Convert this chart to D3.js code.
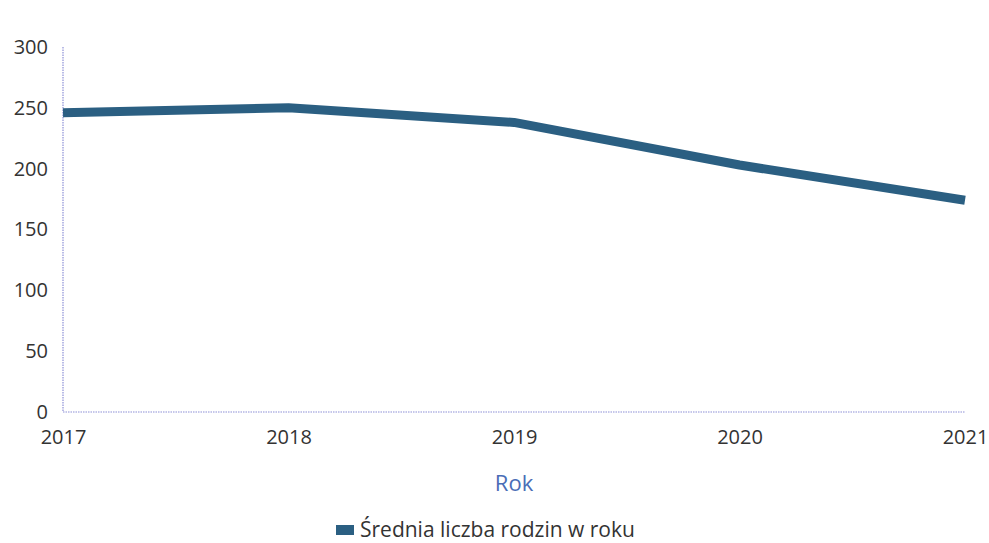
<!DOCTYPE html>
<html>
<head>
<meta charset="utf-8">
<script src="https://cdn.jsdelivr.net/npm/d3@7"></script>
<style>
  body { margin: 0; background: #fff; }
  text { font-family: "Open Sans", sans-serif; }
</style>
</head>
<body>
<div id="chart"></div>
<script>
// data
const years = ["2017", "2018", "2019", "2020", "2021"];
const values = [246, 250, 238, 203, 174];
const yTicks = [0, 50, 100, 150, 200, 250, 300];
const seriesName = "Średnia liczba rodzin w roku";
const xTitle = "Rok";

const w = 989, h = 543;
const margin = {left: 63, right: 24, top: 47, bottom: 131};

const svg = d3.select("#chart").append("svg")
    .attr("width", w)
    .attr("height", h);

const x = d3.scalePoint()
    .domain(years)
    .range([margin.left, w - margin.right]);

const y = d3.scaleLinear()
    .domain([0, 300])
    .range([h - margin.bottom, margin.top]);

// axes lines (dotted lavender)
svg.append("line")
    .attr("x1", margin.left).attr("x2", margin.left)
    .attr("y1", y(300)).attr("y2", y(0))
    .attr("stroke", "#8d8fd6")
    .attr("stroke-width", 1.2)
    .attr("stroke-dasharray", "1.5,1");

svg.append("line")
    .attr("x1", margin.left).attr("x2", w - margin.right)
    .attr("y1", y(0)).attr("y2", y(0))
    .attr("stroke", "#8d8fd6")
    .attr("stroke-width", 1.2)
    .attr("stroke-dasharray", "1.5,1");

// y tick labels
const yAxis = svg.append("g")
    .attr("transform", "translate(" + (margin.left - 15) + ",0)")
    .call(d3.axisLeft(y).tickValues(yTicks).tickSize(0).tickPadding(0));
yAxis.select(".domain").remove();
yAxis.selectAll("text")
    .attr("font-size", "20px")
    .attr("fill", "#333")
    .style("font-family", "'Open Sans', sans-serif");

// x tick labels
const xAxis = svg.append("g")
    .attr("transform", "translate(0," + (y(0) + 18) + ")")
    .call(d3.axisBottom(x).tickSize(0).tickPadding(0));
xAxis.select(".domain").remove();
xAxis.selectAll("text")
    .attr("font-size", "20px")
    .attr("fill", "#333")
    .style("font-family", "'Open Sans', sans-serif");

// x axis title
svg.append("text")
    .attr("x", (margin.left + w - margin.right) / 2)
    .attr("y", 491)
    .attr("text-anchor", "middle")
    .attr("font-size", "22px")
    .attr("fill", "#4a6db6")
    .text(xTitle);

// the line
const line = d3.line()
    .x((d, i) => x(years[i]))
    .y(d => y(d));

svg.append("path")
    .datum(values)
    .attr("d", line)
    .attr("fill", "none")
    .attr("stroke", "#2b5f82")
    .attr("stroke-width", 9)
    .attr("stroke-linejoin", "round");

// legend
const legend = svg.append("g").attr("transform", "translate(336,530)");
legend.append("rect")
    .attr("x", 0).attr("y", -5)
    .attr("width", 18).attr("height", 10)
    .attr("fill", "#2b5f82");
legend.append("text")
    .attr("x", 24).attr("y", 0)
    .attr("dy", "0.35em")
    .attr("font-size", "21px")
    .attr("fill", "#333")
    .text(seriesName);
</script>
</body>
</html>
